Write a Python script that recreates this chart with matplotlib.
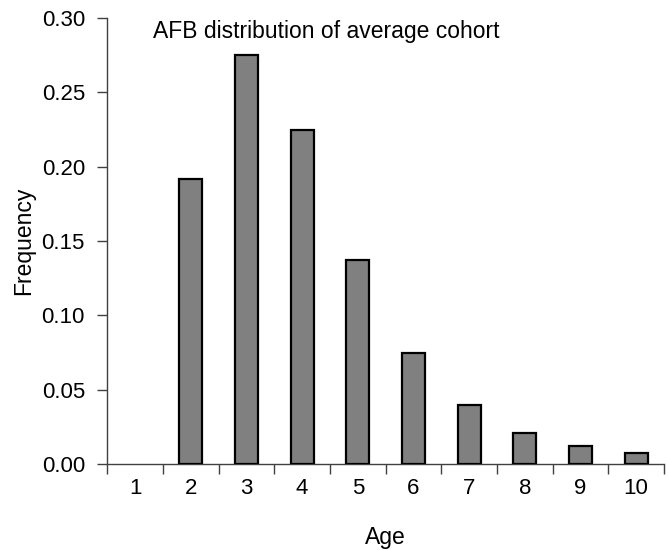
import numpy as np
import matplotlib.pyplot as plt
from matplotlib.ticker import FixedLocator, FormatStrFormatter

plt.rcParams['font.family'] = ['Liberation Sans', 'DejaVu Sans']

ages = ['1', '2', '3', '4', '5', '6', '7', '8', '9', '10']
frequency = [0.0, 0.192, 0.275, 0.225, 0.137, 0.0745, 0.0395, 0.021, 0.0123, 0.0075]

fig = plt.figure(figsize=(6.69, 5.5), dpi=100)
ax = fig.add_axes([107.3 / 669, 86 / 550, 556.7 / 669, 446 / 550])

x = np.arange(len(ages))
# empty categories get no outline, like the original
edge_widths = [1.6 if v > 0 else 0 for v in frequency]
ax.bar(x, frequency, width=0.41, color='#808080', edgecolor='black', linewidth=edge_widths, zorder=3)

ax.set_xlim(-0.5, len(ages) - 0.5)
ax.set_ylim(0, 0.30)

# category boundaries get the tick marks, labels sit in the middle
ax.xaxis.set_major_locator(FixedLocator(np.arange(-0.5, len(ages), 1.0)))
ax.xaxis.set_minor_locator(FixedLocator(x))
ax.set_xticklabels([])
ax.set_xticklabels(ages, minor=True)
ax.tick_params(axis='x', which='major', direction='out', length=7.5, width=1, color='#404040')
ax.tick_params(axis='x', which='minor', length=0, pad=10.4, labelsize=16)

ax.set_yticks(np.arange(0, 0.301, 0.05))
ax.yaxis.set_major_formatter(FormatStrFormatter('%.2f'))
ax.tick_params(axis='y', direction='out', length=7.5, width=1, color='#404040', labelsize=16, pad=8.6)

for side in ['top', 'right']:
    ax.spines[side].set_visible(False)
for side in ['left', 'bottom']:
    ax.spines[side].set_color('#404040')
    ax.spines[side].set_linewidth(1)

ax.set_xlabel('Age', fontsize=16.5)
ax.xaxis.set_label_coords(0.5, -0.139)
ax.set_ylabel('Frequency', fontsize=16.5)
ax.yaxis.set_label_coords(-0.130, 0.5)
ax.text(0.082, 0.9545, 'AFB distribution of average cohort', transform=ax.transAxes,
        fontsize=16.5, va='baseline', ha='left')

plt.savefig('out.png', dpi=100)
